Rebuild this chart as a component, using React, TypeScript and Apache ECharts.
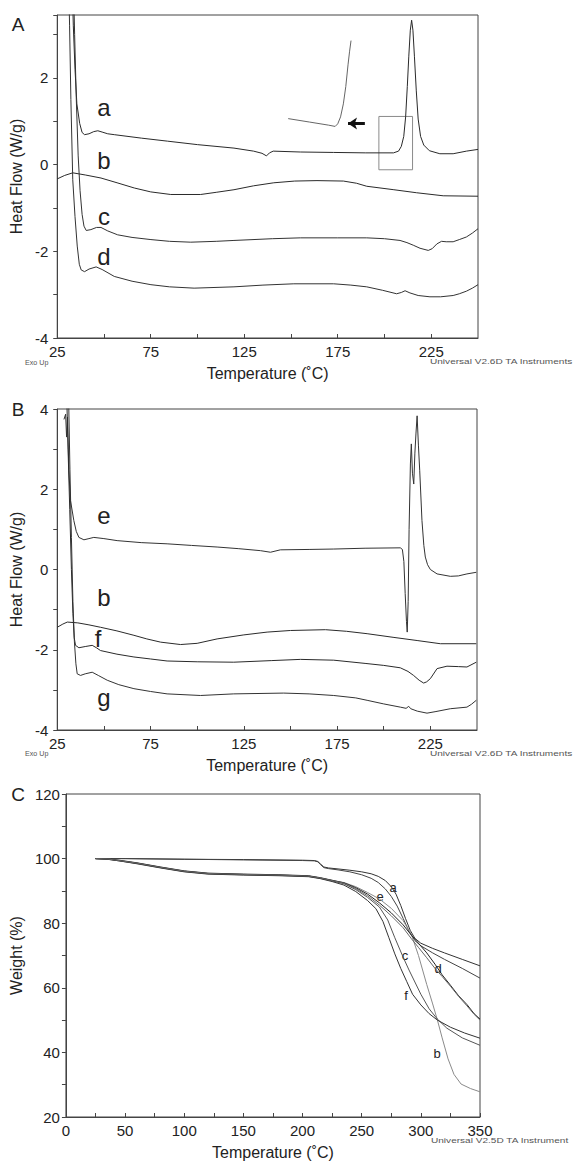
import React, { useEffect, useRef } from "react";
import * as echarts from "echarts";

// ---------- Panel A (DSC) ----------
const dscA_a: [number, number][] = [[32.8,4.5],[33.6,3.2],[34.5,2.2],[35.5,1.4],[37,0.95],[38.3,0.74],[39.6,0.69],[42,0.71],[44.5,0.76],[46.7,0.78],[49,0.75],[52,0.71],[55.5,0.69],[70,0.61],[84,0.54],[100,0.46],[119.5,0.38],[130,0.31],[134.5,0.26],[136.9,0.2],[138.5,0.27],[140.5,0.31],[155,0.29],[172.8,0.28],[190,0.27],[204.8,0.27],[207.5,0.31],[209,0.42],[210.3,0.65],[211.3,1.1],[212.2,1.8],[213,2.5],[213.8,3.1],[214.5,3.33],[215.2,3.1],[216,2.5],[217,1.7],[218,1.05],[219.3,0.65],[221,0.45],[224,0.32],[229.6,0.25],[236.7,0.25],[243.8,0.31],[250,0.35]];
const dscA_b: [number, number][] = [[25,-0.33],[29,-0.25],[33.3,-0.19],[40,-0.24],[48.4,-0.31],[57,-0.42],[66.2,-0.54],[75,-0.63],[85.7,-0.69],[101.7,-0.69],[110,-0.64],[119.5,-0.58],[130,-0.49],[140.8,-0.42],[152,-0.38],[163.9,-0.37],[178,-0.38],[185,-0.43],[190.5,-0.5],[205,-0.58],[217.2,-0.65],[231.4,-0.72],[250,-0.73]];
const dscA_c: [number, number][] = [[33.5,4.5],[34.3,3],[35.2,1.5],[36.2,0.2],[37.2,-0.6],[38.3,-1.15],[39.3,-1.42],[40.5,-1.52],[43,-1.5],[46,-1.45],[48.4,-1.45],[52,-1.53],[57.3,-1.62],[65,-1.68],[75.1,-1.73],[85,-1.77],[96.4,-1.79],[110,-1.77],[119.5,-1.75],[140,-1.71],[155,-1.69],[175,-1.69],[190.5,-1.69],[200,-1.71],[208.3,-1.75],[212,-1.8],[215.4,-1.86],[219,-1.93],[223.4,-1.98],[225.5,-1.94],[228,-1.83],[230.5,-1.77],[233,-1.78],[236.7,-1.78],[240,-1.73],[243.8,-1.67],[247,-1.58],[250,-1.48]];
const dscA_d: [number, number][] = [[31,4.5],[31.6,3.2],[32.3,1.5],[33.3,-0.35],[34.5,-1.2],[35.7,-1.88],[36.8,-2.3],[37.8,-2.43],[39.6,-2.47],[42,-2.41],[45.8,-2.36],[49,-2.42],[55.5,-2.58],[65,-2.69],[75.1,-2.77],[85,-2.82],[98.2,-2.85],[119.5,-2.82],[135,-2.78],[151.5,-2.75],[172.8,-2.75],[182,-2.78],[190.5,-2.82],[199,-2.9],[206.5,-2.98],[209,-2.95],[211,-2.91],[213.6,-2.96],[218,-3.02],[224.3,-3.05],[230,-3.05],[236.7,-3.02],[240,-2.98],[243.8,-2.92],[247,-2.85],[250,-2.77]];
const dscA_inset: [number, number][] = [[148.5,1.06],[160,0.98],[170,0.91],[173.6,0.88],[175,0.94],[176.5,1.1],[178,1.4],[179.3,1.8],[180.5,2.3],[181.3,2.6],[182.1,2.86]];
const insetBox: [number, number][] = [[197,-0.12],[215,1.11]];
const insetArrow: [number, number][] = [[189.5,0.95],[180.5,0.95]];

// ---------- Panel B (DSC) ----------
const dscB_e: [number, number][] = [[28.6,3.74],[29.5,3.87],[30,3.3],[30.5,3.8],[31.25,2.46],[32.1,1.72],[33.9,1.22],[35.2,0.95],[36.6,0.8],[39.3,0.74],[42,0.77],[44.6,0.8],[50,0.77],[57.1,0.72],[70,0.67],[83.9,0.64],[97,0.6],[110.7,0.56],[122,0.52],[133.9,0.47],[139.3,0.43],[144.6,0.49],[160,0.5],[173.2,0.51],[190,0.53],[208.9,0.54],[210,0.5],[210.8,0.2],[211.5,-0.6],[212.2,-1.3],[212.6,-1.56],[213.1,-0.8],[213.6,1.0],[214.3,2.63],[214.8,3.13],[215.4,2.4],[216.1,2.13],[216.7,2.9],[217.3,3.4],[217.9,3.83],[218.6,3.1],[219.3,2.46],[220.5,1.22],[221.5,0.6],[222.3,0.31],[223.5,0.12],[225,0],[228.6,-0.11],[235.7,-0.17],[240,-0.16],[244.6,-0.11],[249.6,-0.07]];
const dscB_b: [number, number][] = [[25,-1.44],[28,-1.36],[30.4,-1.31],[36,-1.33],[42,-1.38],[48.2,-1.44],[57,-1.53],[66.1,-1.64],[73,-1.73],[80.4,-1.81],[91.1,-1.87],[100,-1.84],[110.7,-1.73],[125,-1.63],[137.5,-1.56],[150,-1.52],[168.8,-1.5],[180,-1.54],[191.1,-1.6],[205,-1.69],[217.9,-1.77],[230.4,-1.85],[249.6,-1.85]];
const dscB_f: [number, number][] = [[30,4.5],[30.8,3],[31.7,1.5],[32.6,0],[33.4,-1.1],[34.1,-1.7],[34.8,-1.89],[36.6,-1.95],[40,-1.92],[43.75,-1.89],[46,-1.95],[48.2,-2.02],[57,-2.11],[66.1,-2.18],[75,-2.23],[83.9,-2.28],[100,-2.3],[119.6,-2.31],[140,-2.27],[155.4,-2.24],[173.2,-2.26],[190,-2.34],[200,-2.39],[208.9,-2.45],[213,-2.54],[216,-2.64],[219,-2.76],[221.4,-2.83],[223,-2.8],[225,-2.72],[228.6,-2.47],[233.9,-2.41],[240,-2.42],[244.6,-2.43],[249.6,-2.31]];
const dscB_g: [number, number][] = [[31,4.5],[31.8,2.5],[32.6,0.8],[33.4,-0.8],[34.2,-1.8],[35,-2.35],[35.7,-2.6],[37.5,-2.64],[40,-2.6],[43.75,-2.56],[47,-2.64],[51.8,-2.76],[58,-2.87],[66.1,-2.97],[75,-3.04],[83.9,-3.1],[101.8,-3.14],[119.6,-3.1],[146.4,-3.08],[160,-3.1],[173.2,-3.14],[185,-3.2],[191.1,-3.26],[200,-3.35],[208.9,-3.43],[212,-3.46],[213.4,-3.41],[214.5,-3.47],[218,-3.53],[223.2,-3.58],[228,-3.54],[235.7,-3.47],[244.6,-3.43],[247,-3.36],[249.6,-3.26]];

// ---------- Panel C (TGA) ----------
const tgaC_a: [number, number][] = [[25,100],[50,100],[100,99.8],[150,99.7],[200,99.5],[210,99.4],[213,99.1],[215,98.4],[218,97.4],[222,97.1],[230,96.8],[240,96.4],[250,95.9],[258,95.3],[264,94.5],[270,93.2],[275,91.3],[279,89],[283,85.5],[287,81.5],[291,77.8],[295,75.3],[300,73.8],[310,72.2],[320,70.8],[335,68.8],[350,66.8]];
const tgaC_e: [number, number][] = [[25,100],[50,100],[100,99.8],[150,99.6],[200,99.4],[210,99.3],[213,99],[215,98.2],[218,97.2],[222,96.9],[230,96.5],[240,95.9],[250,95],[258,93.9],[264,92.6],[270,90.6],[275,88.3],[280,85.3],[285,81.5],[290,77.5],[295,74.6],[300,73],[310,70.8],[320,68.8],[335,66],[350,63]];
const tgaC_b: [number, number][] = [[25,100],[35,99.9],[45,99.4],[60,98.6],[80,97.3],[100,96.1],[120,95.4],[150,95.1],[180,94.9],[205,94.6],[215,94.0],[225,93.2],[235,92.6],[245,91.3],[255,89.5],[265,87.5],[275,84.6],[285,80.8],[292,76.5],[298,70],[305,61],[310,55],[314,50],[318,44.5],[323,38],[328,33.2],[334,30.2],[342,28.8],[350,27.8]];
const tgaC_c: [number, number][] = [[25,100],[35,99.8],[45,99.3],[60,98.5],[80,97.2],[100,96.0],[120,95.3],[150,95.0],[180,94.8],[205,94.5],[215,93.9],[225,93.1],[235,92.2],[245,90.4],[255,88],[265,85],[272,81],[278,75.5],[285,69.5],[290,65.5],[300,58],[307,53.5],[314,50.3],[322,47.5],[335,44.5],[350,42.2]];
const tgaC_d: [number, number][] = [[25,100],[35,99.9],[45,99.5],[60,98.7],[80,97.4],[100,96.2],[120,95.5],[150,95.2],[180,95.0],[205,94.7],[215,94.1],[225,93.3],[235,92.5],[245,91],[255,89],[265,86.3],[275,83.2],[285,79.5],[292,76.3],[298,73.8],[305,70.8],[312,67.3],[318,64],[325,60.8],[332,57.5],[339,54.8],[345,52],[350,50.3]];
const tgaC_f: [number, number][] = [[25,100],[35,99.8],[45,99.3],[60,98.4],[80,97.1],[100,95.9],[120,95.2],[150,94.9],[180,94.7],[205,94.4],[215,93.8],[225,92.9],[235,91.8],[245,89.8],[255,87],[262,84.5],[268,80.5],[273,75.5],[278,70.5],[283,66],[288,62],[293,58],[300,54.7],[307,52],[314,50],[325,47.8],[337,46],[350,44.4]];
const tgaC_g: [number, number][] = [[25,100],[35,99.9],[45,99.4],[60,98.6],[80,97.3],[100,96.1],[120,95.4],[150,95.1],[180,94.9],[205,94.6],[215,94.0],[225,93.2],[235,92.4],[245,90.7],[255,88.5],[265,85.6],[275,82.3],[285,78.6],[292,75.2],[298,72.5],[305,69.3],[312,66],[318,63.5],[325,60.5],[332,57.3],[339,54.4],[345,51.8],[350,50]];

const FONT = "'Liberation Sans', Arial, Helvetica, sans-serif";
const AXIS_COLOR = "#444";

function lineSeries(data: [number, number][], idx: number, color: string, extra: any = {}) {
  return {
    type: "line",
    data,
    xAxisIndex: idx,
    yAxisIndex: idx,
    showSymbol: false,
    symbol: "none",
    clip: true,
    lineStyle: { color, width: 1 },
    silent: true,
    ...extra,
  };
}

function xAxisCfg(idx: number, min: number, max: number, labelEvery: number, labelStart: number, margin: number) {
  return {
    type: "value",
    gridIndex: idx,
    min,
    max,
    interval: 25,
    splitLine: { show: false },
    axisLine: { show: true, onZero: false, lineStyle: { color: AXIS_COLOR, width: 1 } },
    axisTick: { show: true, inside: true, length: 4, lineStyle: { color: AXIS_COLOR } },
    axisLabel: {
      fontFamily: FONT,
      fontSize: 15,
      lineHeight: 15,
      color: "#222",
      margin,
      showMaxLabel: labelStart === 0,
      formatter: (v: number) => (((v - labelStart) % labelEvery) === 0 ? String(v) : ""),
    },
    name: "Temperature (˚C)",
    nameLocation: "middle",
    nameGap: 27,
    nameTextStyle: { fontFamily: FONT, fontSize: 16, color: "#222" },
  };
}

function yAxisCfg(idx: number, min: number, max: number, interval: number, labelEvery: number, name: string, margin: number) {
  return {
    type: "value",
    gridIndex: idx,
    min,
    max,
    interval,
    splitLine: { show: false },
    axisLine: { show: true, onZero: false, lineStyle: { color: AXIS_COLOR, width: 1 } },
    axisTick: { show: true, inside: false, length: 4, lineStyle: { color: AXIS_COLOR } },
    axisLabel: {
      fontFamily: FONT,
      fontSize: 15,
      lineHeight: 15,
      color: "#222",
      margin,
      formatter: (v: number) => (Math.abs(v % labelEvery) < 1e-9 ? String(v) : ""),
    },
    name,
    nameLocation: "middle",
    nameGap: 33,
    nameTextStyle: { fontFamily: FONT, fontSize: 16, color: "#222" },
  };
}

function txt(text: string, x: number, y: number, size: number, extra: any = {}, el: any = {}) {
  return {
    type: "text",
    x,
    y,
    silent: true,
    ...el,
    style: {
      text,
      fontFamily: FONT,
      fontSize: size,
      fill: "#222",
      align: "center",
      verticalAlign: "middle",
      ...extra,
    },
  };
}

const small = { align: "left", fill: "#555" };
const wide = { scaleX: 1.55 };

export default function App() {
  const ref = useRef<HTMLDivElement>(null);
  useEffect(() => {
    document.body.style.margin = "0";
    if (!ref.current) return;
    const chart = echarts.init(ref.current, undefined, { renderer: "svg" });
    const option: any = {
      animation: false,
      backgroundColor: "#fff",
      grid: [
        { left: 57, top: 15, width: 421, height: 323, show: true, borderColor: AXIS_COLOR, borderWidth: 1 },
        { left: 57, top: 409, width: 420, height: 321, show: true, borderColor: AXIS_COLOR, borderWidth: 1 },
        { left: 57, top: 794, width: 423, height: 324, show: true, borderColor: AXIS_COLOR, borderWidth: 1 },
      ],
      xAxis: [
        xAxisCfg(0, 25, 250, 50, 25, 6),
        xAxisCfg(1, 25, 250, 50, 25, 6),
        xAxisCfg(2, 0, 350, 50, 0, 6),
      ],
      yAxis: [
        yAxisCfg(0, -4, 3.45, 1, 2, "Heat Flow (W/g)", 9),
        yAxisCfg(1, -4, 4, 1, 2, "Heat Flow (W/g)", 9),
        yAxisCfg(2, 20, 120, 10, 20, "Weight (%)", 6),
      ],
      series: [
        lineSeries(dscA_a, 0, "#2a2a2a", {
          markArea: {
            silent: true,
            itemStyle: { color: "rgba(0,0,0,0)", borderColor: "#8a8a8a", borderWidth: 1 },
            data: [[{ coord: insetBox[0] }, { coord: insetBox[1] }]],
          },
          markLine: {
            silent: true,
            symbol: ["none", "arrow"],
            symbolSize: [9, 9],
            label: { show: false },
            lineStyle: { color: "#111", width: 3, type: "solid" },
            data: [[{ coord: insetArrow[0] }, { coord: insetArrow[1] }]],
          },
        }),
        lineSeries(dscA_b, 0, "#2a2a2a"),
        lineSeries(dscA_c, 0, "#333"),
        lineSeries(dscA_d, 0, "#333"),
        lineSeries(dscA_inset, 0, "#666"),
        lineSeries(dscB_e, 1, "#333"),
        lineSeries(dscB_b, 1, "#2a2a2a"),
        lineSeries(dscB_f, 1, "#2a2a2a"),
        lineSeries(dscB_g, 1, "#333"),
        lineSeries(tgaC_a, 2, "#333"),
        lineSeries(tgaC_e, 2, "#444"),
        lineSeries(tgaC_b, 2, "#8a8a8a"),
        lineSeries(tgaC_c, 2, "#555"),
        lineSeries(tgaC_d, 2, "#222"),
        lineSeries(tgaC_f, 2, "#333"),
        lineSeries(tgaC_g, 2, "#666"),
      ],
      graphic: [
        txt("A", 18, 24, 19),
        txt("B", 18, 409, 19),
        txt("C", 18, 794, 19),
        txt("a", 104, 107, 24),
        txt("b", 104, 160, 24),
        txt("c", 104, 216, 24),
        txt("d", 104, 256, 24),
        txt("e", 104, 515, 24),
        txt("b", 104, 597, 24),
        txt("f", 98, 638, 24),
        txt("g", 104, 697, 24),
        txt("a", 393, 887, 13),
        txt("e", 380, 896, 13),
        txt("c", 405, 955, 13),
        txt("d", 438, 968, 13),
        txt("f", 406, 995, 13),
        txt("b", 437, 1053, 13),
        txt("Exo Up", 25, 363, 6.5, small, { scaleX: 1.1 }),
        txt("Universal V2.6D TA Instruments", 430, 362, 6.5, small, wide),
        txt("Exo Up", 25, 754, 6.5, small, { scaleX: 1.1 }),
        txt("Universal V2.6D TA Instruments", 430, 754, 6.5, small, wide),
        txt("Universal V2.5D TA Instrument", 431, 1141, 6.5, small, wide),
      ],
    };
    chart.setOption(option);
    return () => chart.dispose();
  }, []);
  return <div ref={ref} style={{ width: 577, height: 1161 }} />;
}
